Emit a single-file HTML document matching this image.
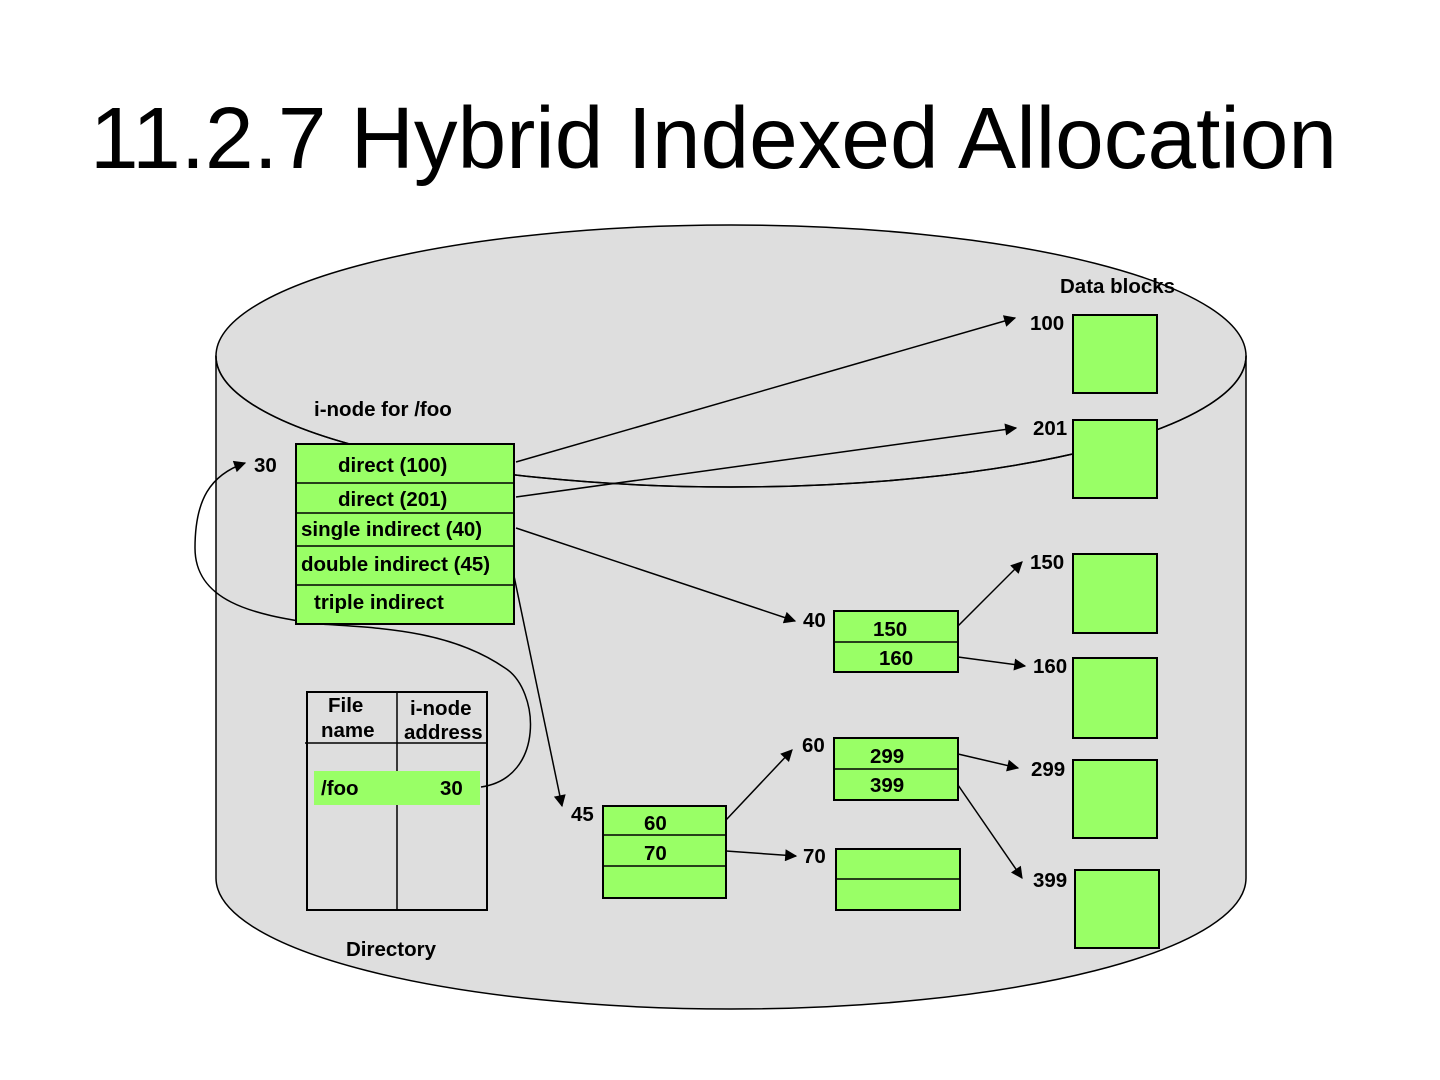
<!DOCTYPE html>
<html><head><meta charset="utf-8"><style>
html,body{margin:0;padding:0;background:#fff;}
svg{display:block;}
text{font-family:"Liberation Sans",Arial,sans-serif;font-weight:bold;font-size:20.5px;fill:#000;}
.t{font-weight:normal;font-size:87px;}
.g{fill:#99ff66;stroke:#000;stroke-width:2;}
.l{stroke:#000;stroke-width:1.5;fill:none;}
</style></head><body>
<svg width="1440" height="1080" viewBox="0 0 1440 1080" xmlns="http://www.w3.org/2000/svg">
<defs><marker id="a" viewBox="0 0 10 10" refX="9" refY="5" markerWidth="13" markerHeight="12" markerUnits="userSpaceOnUse" orient="auto"><path d="M0,0 L10,5 L0,10 z" fill="#000"/></marker></defs>
<text class="t" x="90" y="168" textLength="1247" lengthAdjust="spacingAndGlyphs">11.2.7 Hybrid Indexed Allocation</text>
<path d="M216,356 L216,878 A515,131 0 0 0 1246,878 L1246,356 Z" fill="#dedede" stroke="#000" stroke-width="1.5"/>
<ellipse cx="731" cy="356" rx="515" ry="131" fill="#dedede" stroke="#000" stroke-width="1.5"/>
<text x="1060" y="293">Data blocks</text>
<text x="314" y="416">i-node for /foo</text>
<text x="346" y="956">Directory</text>
<line class="l" x1="516" y1="462" x2="1015" y2="318" marker-end="url(#a)"/>
<line class="l" x1="516" y1="497" x2="1016" y2="428" marker-end="url(#a)"/>
<line class="l" x1="516" y1="528" x2="795" y2="621" marker-end="url(#a)"/>
<line class="l" x1="514" y1="576" x2="562" y2="806" marker-end="url(#a)"/>
<line class="l" x1="958" y1="626" x2="1022" y2="562" marker-end="url(#a)"/>
<line class="l" x1="958" y1="657" x2="1025" y2="666" marker-end="url(#a)"/>
<line class="l" x1="958" y1="754" x2="1018" y2="768" marker-end="url(#a)"/>
<line class="l" x1="958" y1="785" x2="1022" y2="878" marker-end="url(#a)"/>
<line class="l" x1="726" y1="820" x2="792" y2="750" marker-end="url(#a)"/>
<line class="l" x1="726" y1="851" x2="796" y2="856" marker-end="url(#a)"/>
<path class="l" d="M481,787 C545,778 540,690 505,668 C450,630 380,628 320,624 C250,615 195,600 195,548 C195,500 210,475 245,463" marker-end="url(#a)"/>
<path d="M216,356 A515,131 0 0 0 1246,356" fill="none" stroke="#000" stroke-width="1.5"/>
<rect class="g" x="296" y="444" width="218" height="180"/>
<line class="l" stroke-width="2" x1="296" y1="483" x2="514" y2="483"/>
<line class="l" stroke-width="2" x1="296" y1="513" x2="514" y2="513"/>
<line class="l" stroke-width="2" x1="296" y1="546" x2="514" y2="546"/>
<line class="l" stroke-width="2" x1="296" y1="585" x2="514" y2="585"/>
<text x="338" y="472">direct (100)</text>
<text x="338" y="506">direct (201)</text>
<text x="301" y="536">single indirect (40)</text>
<text x="301" y="571">double indirect (45)</text>
<text x="314" y="609">triple indirect</text>
<text x="254" y="472">30</text>
<rect class="g" x="1073" y="315" width="84" height="78"/>
<rect class="g" x="1073" y="420" width="84" height="78"/>
<rect class="g" x="1073" y="554" width="84" height="79"/>
<rect class="g" x="1073" y="658" width="84" height="80"/>
<rect class="g" x="1073" y="760" width="84" height="78"/>
<rect class="g" x="1075" y="870" width="84" height="78"/>
<text x="1030" y="330">100</text>
<text x="1033" y="435">201</text>
<text x="1030" y="569">150</text>
<text x="1033" y="673">160</text>
<text x="1031" y="776">299</text>
<text x="1033" y="887">399</text>
<rect class="g" x="834" y="611" width="124" height="61"/>
<line class="l" stroke-width="2" x1="834" y1="642" x2="958" y2="642"/>
<text x="873" y="636">150</text><text x="879" y="665">160</text><text x="803" y="627">40</text>
<rect class="g" x="834" y="738" width="124" height="62"/>
<line class="l" x1="834" y1="769" x2="958" y2="769"/>
<text x="870" y="763">299</text><text x="870" y="792">399</text><text x="802" y="752">60</text>
<rect class="g" x="603" y="806" width="123" height="92"/>
<line class="l" x1="603" y1="835" x2="726" y2="835"/>
<line class="l" stroke-width="2" x1="603" y1="866" x2="726" y2="866"/>
<text x="644" y="830">60</text><text x="644" y="860">70</text><text x="571" y="821">45</text>
<rect class="g" x="836" y="849" width="124" height="61"/>
<line class="l" x1="836" y1="879" x2="960" y2="879"/>
<text x="803" y="863">70</text>
<rect x="307" y="692" width="180" height="218" fill="none" stroke="#000" stroke-width="2"/>
<line class="l" x1="305" y1="743" x2="487" y2="743"/>
<line class="l" x1="397" y1="692" x2="397" y2="910"/>
<rect x="314" y="771" width="166" height="34" fill="#99ff66"/>
<text x="328" y="712">File</text><text x="321" y="737">name</text>
<text x="410" y="715">i-node</text><text x="404" y="739">address</text>
<text x="321" y="795">/foo</text><text x="440" y="795">30</text>
</svg>
</body></html>
